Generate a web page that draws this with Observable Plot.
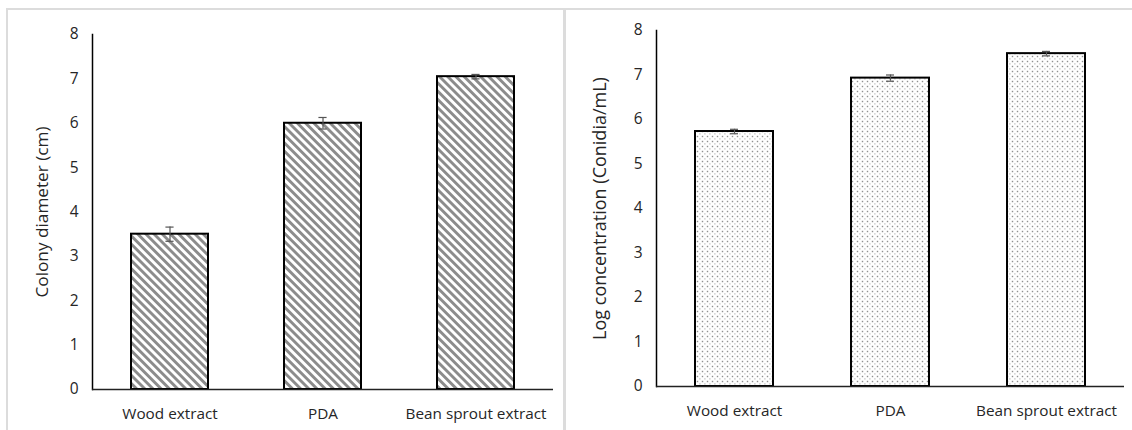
<!DOCTYPE html>
<html>
<head>
<meta charset="utf-8">
<script src="https://cdn.jsdelivr.net/npm/d3@7"></script>
<script src="https://cdn.jsdelivr.net/npm/@observablehq/plot@0.6"></script>
<style>
  html, body { margin: 0; padding: 0; background: #fff; }
  #wrap { position: relative; width: 1132px; height: 430px; overflow: hidden; font-family: "Open Sans", sans-serif; }
  .panel { position: absolute; top: 0; }
  .border-top { position: absolute; left: 6px; top: 8px; width: 1126px; height: 2px; background: #dcdcdc; }
  .border-left { position: absolute; left: 6px; top: 8px; width: 2px; height: 430px; background: #dcdcdc; }
  .border-mid { position: absolute; left: 563px; top: 8px; width: 3px; height: 430px; background: #dcdcdc; }
  svg text { fill: #262626; }
</style>
</head>
<body>
<div id="wrap">
  <div class="panel" id="left" style="left:0px"></div>
  <div class="panel" id="right" style="left:566px"></div>
  <div class="border-top"></div>
  <div class="border-left"></div>
  <div class="border-mid"></div>
</div>
<script>
const categories = ["Wood extract", "PDA", "Bean sprout extract"];
const diameterValues = [3.5, 6.0, 7.05];
const diameterErrors = [0.16, 0.13, 0.05];
const concentrationValues = [5.73, 6.93, 7.48];
const concentrationErrors = [0.05, 0.07, 0.05];
const yTicks = [0, 1, 2, 3, 4, 5, 6, 7, 8];

function makeChart({values, errors, label, fillId, margins, width, labelOffset, labelSize}) {
  const data = categories.map((c, i) => ({cat: c, v: values[i], e: errors[i]}));
  const plotW = width - margins.left - margins.right;
  const band = plotW / 3 * 0.5;
  const capInset = (band - 8) / 2;
  const chart = Plot.plot({
    width,
    height: 430,
    marginLeft: margins.left,
    marginRight: margins.right,
    marginTop: margins.top,
    marginBottom: margins.bottom,
    style: {fontFamily: "Open Sans, sans-serif", color: "#262626", background: "transparent"},
    x: {domain: categories, paddingInner: 0.5, paddingOuter: 0.25, label: null},
    y: {domain: [0, 8], label: null},
    marks: [
      Plot.barY(data, {x: "cat", y: "v", fill: `url(#${fillId})`, stroke: "#000", strokeWidth: 2}),
      Plot.ruleX(data, {x: "cat", y1: d => d.v - d.e, y2: d => d.v + d.e, stroke: "#555", strokeWidth: 1.2}),
      Plot.tickY(data, {x: "cat", y: d => d.v + d.e, stroke: "#555", strokeWidth: 1.2, insetLeft: capInset, insetRight: capInset}),
      Plot.tickY(data, {x: "cat", y: d => d.v - d.e, stroke: "#555", strokeWidth: 1.2, insetLeft: capInset, insetRight: capInset}),
      Plot.axisY({ticks: yTicks, tickSize: 0, tickPadding: 14, tickFormat: d3.format("d"), fontSize: 15.5, label: null}),
      Plot.axisY({ticks: [], tickSize: 0, fontSize: labelSize, label, labelAnchor: "center", labelArrow: "none", labelOffset}),
      Plot.axisX({tickSize: 0, tickPadding: 19, fontSize: 15.3}),
      Plot.frame({anchor: "left", stroke: "#000", strokeWidth: 1.5}),
      Plot.ruleY([0], {stroke: "#222", strokeWidth: 1.5})
    ]
  });
  const defs = d3.select(chart).insert("defs", ":first-child");
  const stripes = defs.append("pattern").attr("id", "stripes").attr("patternUnits", "userSpaceOnUse")
    .attr("width", 5.8).attr("height", 5.8).attr("patternTransform", "rotate(-45)");
  stripes.append("rect").attr("width", 5.8).attr("height", 5.8).attr("fill", "#fff");
  stripes.append("rect").attr("width", 2.9).attr("height", 5.8).attr("fill", "#8c8c8c");
  const dots = defs.append("pattern").attr("id", "dots").attr("patternUnits", "userSpaceOnUse")
    .attr("width", 5).attr("height", 5);
  dots.append("rect").attr("width", 5).attr("height", 5).attr("fill", "#fff");
  dots.append("rect").attr("x", 0.8).attr("y", 0.8).attr("width", 1.4).attr("height", 1.4).attr("fill", "#8f8f8f");
  dots.append("rect").attr("x", 3.3).attr("y", 3.3).attr("width", 1.2).attr("height", 1.2).attr("fill", "#b5b5b5");
  return chart;
}

document.getElementById("left").append(makeChart({
  values: diameterValues, errors: diameterErrors, label: "Colony diameter (cm)", fillId: "stripes",
  margins: {left: 92, right: 13, top: 34, bottom: 41}, width: 566, labelOffset: 57, labelSize: 17.2
}));
document.getElementById("right").append(makeChart({
  values: concentrationValues, errors: concentrationErrors, label: "Log concentration (Conidia/mL)", fillId: "dots",
  margins: {left: 90, right: 8, top: 30, bottom: 44}, width: 566, labelOffset: 63, labelSize: 18
}));
</script>
</body>
</html>
